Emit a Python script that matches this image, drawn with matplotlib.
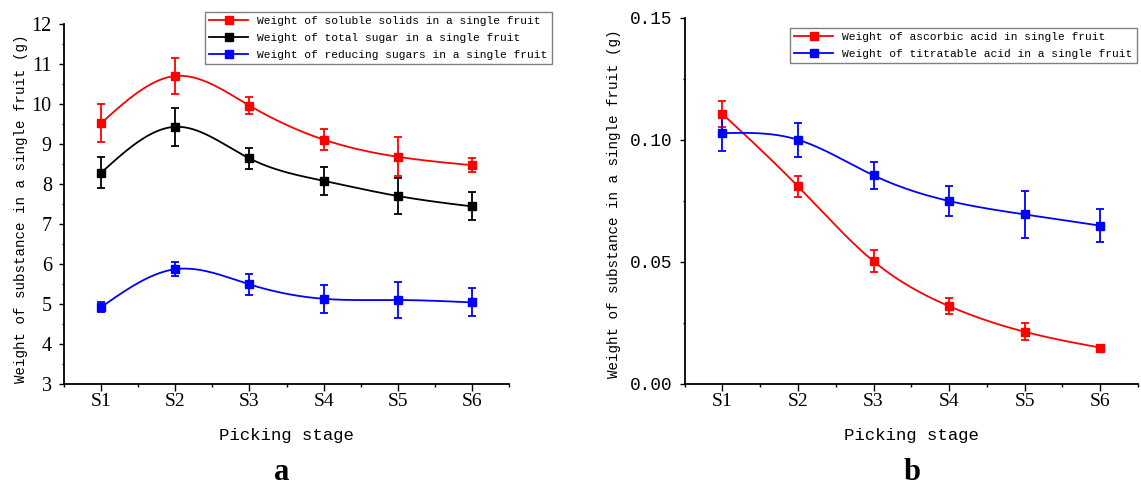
import numpy as np
import matplotlib.pyplot as plt
from matplotlib.lines import Line2D
from matplotlib.ticker import MultipleLocator

stages = ['S1', 'S2', 'S3', 'S4', 'S5', 'S6']

# panel a (g)
soluble_solids = [9.52, 10.70, 9.96, 9.11, 8.68, 8.47]
soluble_solids_err = [0.47, 0.44, 0.22, 0.26, 0.49, 0.18]
total_sugar = [8.28, 9.43, 8.64, 8.08, 7.70, 7.44]
total_sugar_err = [0.39, 0.47, 0.27, 0.35, 0.44, 0.35]
reducing_sugar = [4.92, 5.87, 5.49, 5.13, 5.10, 5.04]
reducing_sugar_err = [0.13, 0.18, 0.27, 0.35, 0.45, 0.35]

# panel b (g)
ascorbic = [0.1107, 0.0810, 0.0503, 0.0319, 0.0214, 0.0149]
ascorbic_err = [0.0054, 0.0043, 0.0045, 0.0032, 0.0034, 0.0005]
titratable = [0.1028, 0.1001, 0.0855, 0.0750, 0.0695, 0.0649]
titratable_err = [0.0075, 0.0069, 0.0056, 0.0061, 0.0097, 0.0067]

labels_a = ['Weight of soluble solids in a single fruit',
            'Weight of total sugar in a single fruit',
            'Weight of reducing sugars in a single fruit']
labels_b = ['Weight of ascorbic acid in single fruit',
            'Weight of titratable acid in a single fruit']

MONO = 'Liberation Mono'
SERIF = 'Liberation Serif'


def smooth(x, y, n=300):
    # natural cubic spline, only used to draw the connecting curve
    x = np.asarray(x, float)
    y = np.asarray(y, float)
    k = len(x)
    h = np.diff(x)
    A = np.zeros((k, k))
    r = np.zeros(k)
    A[0, 0] = A[-1, -1] = 1
    for i in range(1, k - 1):
        A[i, i - 1] = h[i - 1]
        A[i, i] = 2 * (h[i - 1] + h[i])
        A[i, i + 1] = h[i]
        r[i] = 3 * ((y[i + 1] - y[i]) / h[i] - (y[i] - y[i - 1]) / h[i - 1])
    c = np.linalg.solve(A, r)
    b = (y[1:] - y[:-1]) / h - h * (2 * c[:-1] + c[1:]) / 3
    d = (c[1:] - c[:-1]) / (3 * h)
    xs = np.linspace(x[0], x[-1], n)
    idx = np.clip(np.searchsorted(x, xs) - 1, 0, k - 2)
    dx = xs - x[idx]
    ys = y[idx] + b[idx] * dx + c[idx] * dx ** 2 + d[idx] * dx ** 3
    return xs, ys


def draw(ax, vals, errs, color):
    x = np.arange(1, len(stages) + 1)
    xs, ys = smooth(x, vals)
    ax.plot(xs, ys, color=color, lw=1.3, zorder=2)
    ax.errorbar(x, vals, yerr=errs, fmt='s', color=color, ms=6,
                elinewidth=1.3, capsize=3.2, capthick=1.3, zorder=3)
    return Line2D([], [], color=color, lw=1.3, marker='s', ms=6)


def style(ax):
    ax.spines['top'].set_visible(False)
    ax.spines['right'].set_visible(False)
    for s in ['left', 'bottom']:
        ax.spines[s].set_linewidth(1.3)
    ax.set_xlim(0.5, 6.5)
    ax.set_xticks(range(1, 7))
    ax.set_xticklabels(stages, fontfamily=SERIF, fontsize=14)
    ax.xaxis.set_minor_locator(MultipleLocator(0.5))
    ax.tick_params(axis='x', which='major', length=4.7, width=1, pad=1.5)
    ax.tick_params(axis='x', which='minor', length=2.2, width=1)
    ax.tick_params(axis='y', which='major', length=3.3, width=1, pad=5.5)
    ax.tick_params(axis='y', which='minor', length=1.8, width=1)
    ax.set_xlabel('Picking stage', fontfamily=MONO, fontsize=12.5, va='center')


fig = plt.figure(figsize=(11.41, 4.87), dpi=100)

# ---- panel a ----
ax1 = fig.add_axes([64 / 1141, 1 - 384 / 487, 445 / 1141, 360 / 487])
h1 = draw(ax1, soluble_solids, soluble_solids_err, '#ff0000')
h2 = draw(ax1, total_sugar, total_sugar_err, '#000000')
h3 = draw(ax1, reducing_sugar, reducing_sugar_err, '#0000ff')
style(ax1)
ax1.set_ylim(3, 12)
ax1.yaxis.set_major_locator(MultipleLocator(1))
ax1.yaxis.set_minor_locator(MultipleLocator(0.5))
for t in ax1.get_yticklabels():
    t.set_fontfamily(SERIF)
    t.set_fontsize(14.5)
ax1.set_ylabel('Weight of substance in a single fruit (g)', fontfamily=MONO,
               fontsize=10.2, va='center')
ax1.yaxis.set_label_coords(-0.096, 0.4875)
ax1.xaxis.set_label_coords(0.5, -0.144)
ax1.legend([h1, h2, h3], labels_a, loc='upper left',
           bbox_to_anchor=(205 / 1141, 1 - 12 / 487), bbox_transform=fig.transFigure,
           borderaxespad=0, borderpad=0.35, handlelength=3.5, handletextpad=0.8,
           labelspacing=0.62, numpoints=1, fancybox=False, framealpha=1,
           edgecolor='#808080', prop={'family': MONO, 'size': 8.1})
fig.text(282 / 1141, 1 - 480 / 487, 'a', fontfamily=SERIF, fontweight='bold',
         fontsize=22, ha='center', va='baseline')

# ---- panel b ----
ax2 = fig.add_axes([684.6 / 1141, 1 - 384 / 487, 453.4 / 1141, 366 / 487])
g1 = draw(ax2, ascorbic, ascorbic_err, '#ff0000')
g2 = draw(ax2, titratable, titratable_err, '#0000ff')
style(ax2)
ax2.set_ylim(0, 0.15)
ax2.yaxis.set_major_locator(MultipleLocator(0.05))
ax2.yaxis.set_minor_locator(MultipleLocator(0.025))
ax2.set_yticks([0, 0.05, 0.10, 0.15])
ax2.set_yticklabels(['0.00', '0.05', '0.10', '0.15'], fontfamily=MONO, fontsize=12.8)
ax2.set_ylabel('Weight of substance in a single fruit (g)', fontfamily=MONO,
               fontsize=10.3, va='center')
ax2.yaxis.set_label_coords(-0.1557, 0.492)
ax2.xaxis.set_label_coords(0.5, -0.142)
ax2.legend([g1, g2], labels_b, loc='upper left',
           bbox_to_anchor=(790 / 1141, 1 - 28 / 487), bbox_transform=fig.transFigure,
           borderaxespad=0, borderpad=0.35, handlelength=3.5, handletextpad=0.8,
           labelspacing=0.62, numpoints=1, fancybox=False, framealpha=1,
           edgecolor='#808080', prop={'family': MONO, 'size': 8.1})
fig.text(912 / 1141, 1 - 480 / 487, 'b', fontfamily=SERIF, fontweight='bold',
         fontsize=22, ha='center', va='baseline')

fig.savefig('out.png', dpi=100)
